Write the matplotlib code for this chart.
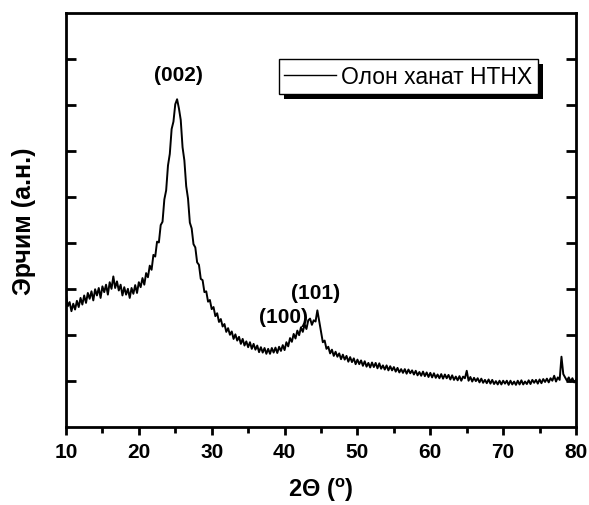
import numpy as np
import matplotlib
matplotlib.use("Agg")
import matplotlib.pyplot as plt
from matplotlib.ticker import MultipleLocator
from matplotlib.patches import Rectangle

plt.rcParams['font.family'] = ['Liberation Sans', 'DejaVu Sans']
plt.rcParams['mathtext.fontset'] = 'custom'
plt.rcParams['mathtext.rm'] = 'Liberation Sans:bold'
plt.rcParams['mathtext.bf'] = 'Liberation Sans:bold'

# --- data ---
two_theta = np.arange(10.0, 80.001, 0.25)
intensity = [
    # 10.00 - 22.00
    320, 292, 302, 280, 298, 284, 305, 290, 312, 296,
    318, 300, 324, 310, 328, 306, 333, 318, 336, 312,
    340, 326, 344, 320, 350, 334, 364, 336, 352, 330,
    344, 318, 338, 320, 334, 312, 336, 322, 343, 324,
    350, 338, 360, 344, 372, 362, 390, 380, 416,
    # 22.25 - 28.00
    412, 448, 446, 488, 496, 550, 572, 632, 660, 720,
    738, 780, 792, 770, 742, 676, 644, 582, 552, 494,
    480, 442, 434, 398,
    # 28.25 - 40.00
    392, 358, 355, 326, 328, 303, 307, 285, 290, 268,
    275, 254, 261, 243, 249, 230, 239, 223, 231, 213,
    224, 209, 218, 201, 213, 197, 207, 193, 205, 189,
    201, 187, 197, 181, 193, 180, 191, 177, 189, 177,
    191, 180, 192, 179, 194, 184, 198, 186,
    # 40.25 - 46.00
    205, 195, 215, 206, 225, 214, 233, 222, 241, 230,
    248, 237, 258, 262, 247, 258, 255, 282, 256, 230,
    205, 209, 189, 194,
    # 46.25 - 60.00
    178, 187, 172, 182, 170, 178, 164, 175, 163, 172,
    158, 169, 157, 166, 152, 163, 152, 161, 148, 159,
    146, 155, 144, 156, 145, 155, 142, 154, 141, 149,
    139, 149, 137, 147, 137, 145, 134, 143, 132, 140,
    131, 140, 129, 139, 130, 137, 127, 136, 125, 133,
    124, 134, 123, 132, 121, 131,
    # 60.25 - 80.00
    120, 130, 119, 127, 118, 128, 117, 127, 118, 126,
    115, 125, 114, 122, 113, 123, 112, 122, 118, 136,
    112, 121, 110, 119, 111, 118, 108, 117, 107, 114,
    106, 115, 105, 114, 104, 111, 103, 112, 103, 112,
    105, 112, 102, 112, 103, 110, 102, 112, 103, 113,
    103, 110, 104, 113, 104, 114, 107, 114, 105, 115,
    106, 116, 109, 117, 108, 118, 112, 124, 110, 120,
    114, 170, 128, 120, 112, 120, 110, 118, 108, 114,
]
series_label = "Олон ханат НТНХ"
peak_labels = ["(002)", "(100)", "(101)"]
peak_x = [25.4, 39.8, 44.3]
peak_y = [853, 266, 324]
x_ticks = [10, 20, 30, 40, 50, 60, 70, 80]

fig = plt.figure(figsize=(5.89, 5.06), dpi=100)
ax = fig.add_axes([0.112, 0.154, 0.866, 0.818])

ax.plot(two_theta, intensity, color='black', lw=1.4, label=series_label)

ax.set_xlim(10, 80)
ax.set_ylim(0, 1000)
ax.set_xticks(x_ticks)
ax.xaxis.set_minor_locator(MultipleLocator(5))
ax.set_yticks([1000 / 9 * k for k in range(1, 9)])
ax.set_yticklabels([])

for s in ax.spines.values():
    s.set_linewidth(2)

ax.tick_params(axis='x', which='major', direction='out', length=6, width=2,
               labelsize=15, pad=5, top=False)
ax.tick_params(axis='x', which='minor', direction='out', length=4, width=2, top=False)
ax.tick_params(axis='y', which='major', direction='in', length=7, width=2,
               left=True, right=True)
for lab in ax.get_xticklabels():
    lab.set_fontweight('bold')

ax.set_xlabel(r'2Θ ($^{\mathrm{o}}$)', fontsize=17, fontweight='bold', labelpad=10)
ax.set_ylabel('Эрчим (а.н.)', fontsize=18, fontweight='bold', labelpad=18)

for lab, px, py in zip(peak_labels, peak_x, peak_y):
    ax.text(px, py, lab, ha='center', va='center', fontsize=15, fontweight='bold')

leg = ax.legend(loc='upper right', bbox_to_anchor=(0.925, 0.889), borderaxespad=0,
                fontsize=16.5, handlelength=2.27, handletextpad=0.2, borderpad=0.25,
                fancybox=False, framealpha=1, edgecolor='black')
leg.get_frame().set_linewidth(1.0)
leg.get_lines()[0].set_linewidth(1.0)
leg.set_zorder(6)

# black drop shadow behind the legend box
fig.canvas.draw()
bb = leg.get_window_extent()
ax.add_patch(Rectangle((bb.x0 + 5, bb.y0 - 5), bb.width, bb.height,
                       transform=None, facecolor='black', edgecolor='none',
                       zorder=5.5, clip_on=False))

fig.savefig('out.png', dpi=100)
